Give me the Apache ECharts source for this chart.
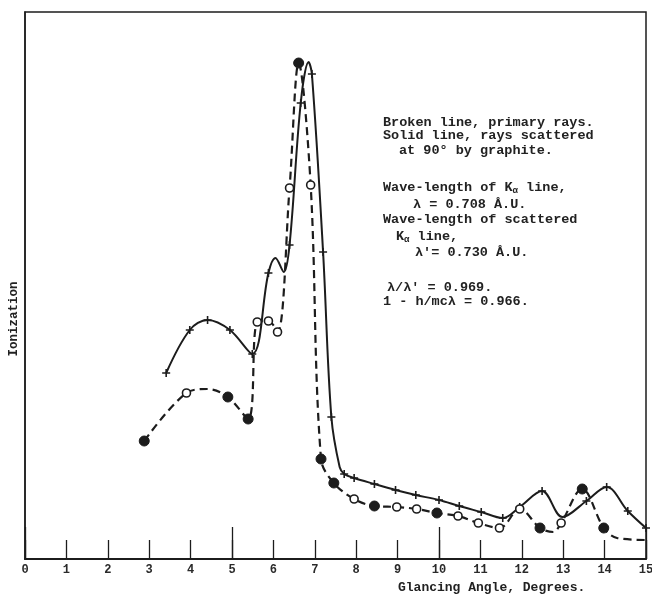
<!DOCTYPE html>
<html><head><meta charset="utf-8">
<script src="https://cdn.jsdelivr.net/npm/echarts/dist/echarts.min.js"></script>
<style>html,body{margin:0;background:#fff}#c{width:652px;height:595px}</style>
</head><body><div id="c"></div><script>
// Tick labels of the glancing-angle axis
const angleTicks = ['0','1','2','3','4','5','6','7','8','9','10','11','12','13','14','15'];

// Solid line: rays scattered at 90° by graphite (ionization in arbitrary units)
const scatteredAngle      = [3.41, 3.98, 4.41, 4.95, 5.49, 5.88, 6.05, 6.25, 6.39, 6.66, 6.85, 6.93, 7.20, 7.40, 7.60, 7.71, 7.95, 8.44, 8.95, 9.44, 10.00, 10.49, 11.02, 11.54, 11.95, 12.49, 12.98, 13.56, 14.05, 14.56, 15.00];
const scatteredIonization = [186,  229,  239,  229,  205,  286,  301,  287,  314,  456,  497,  485,  307,  142,  92,   85,   81,   75,   69,   64,   59,    53,    47,    41,    52,    68,    42,    58,    72,    48,    31];
const scatteredMarked     = [1,    1,    1,    1,    1,    1,    0,    0,    1,    1,    0,    1,    1,    1,    0,    1,    1,    1,    1,    1,    1,     1,     1,     1,     1,     1,     0,     1,     1,     1,     1];

// Broken line: primary rays
const primaryAngle      = [2.88, 3.90, 4.40, 4.90, 5.39, 5.61, 5.88, 6.10, 6.39, 6.61, 6.90, 7.15, 7.46, 7.95, 8.44, 8.98, 9.46, 9.95, 10.46, 10.95, 11.46, 11.95, 12.44, 12.76, 12.95, 13.46, 13.98, 14.30, 15.00];
const primaryIonization = [118,  166,  170,  162,  140,  237,  238,  227,  371,  496,  374,  100,  76,   60,   53,   52,   50,   46,   43,    36,    31,    50,    31,    27,    36,    70,    31,    21,    19];
const primaryMarker     = ['filled','open','none','filled','filled','open','open','open','open','filled','open','filled','filled','open','filled','open','open','filled','open','open','open','open','filled','none','open','filled','filled','none','none'];

const notes = [
  'Broken line, primary rays.',
  'Solid line, rays scattered',
  'at 90\u00b0 by graphite.',
  'Wave-length of {t|K}{s|\u03b1} line,',
  '\u03bb = 0.708 \u00c5.U.',
  'Wave-length of scattered',
  '{t|K}{s|\u03b1} line,',
  "\u03bb'= 0.730 \u00c5.U.",
  "\u03bb/\u03bb' = 0.969.",
  '1 - h/mc\u03bb = 0.966.'
];
const xTitle = 'Glancing Angle, Degrees.';
const yTitle = 'Ionization';

const ink = '#1c1c1c';
const mono = '"Liberation Mono", "DejaVu Sans Mono", monospace';
const crossPath = 'path://M4,0h2v10h-2z M0,4h10v2h-10z';

const scatteredData = scatteredAngle.map((a, i) => ({
  value: [a, scatteredIonization[i]],
  symbol: scatteredMarked[i] ? crossPath : 'none',
  symbolSize: 8
}));
const primaryData = primaryAngle.map((a, i) => {
  const m = primaryMarker[i];
  return {
    value: [a, primaryIonization[i]],
    symbol: m === 'none' ? 'none' : 'circle',
    symbolSize: m === 'filled' ? 10 : 8,
    itemStyle: m === 'filled'
      ? { color: ink, borderColor: ink, borderWidth: 1 }
      : { color: '#fff', borderColor: ink, borderWidth: 1.6 }
  };
});

const noteX = [383, 383, 399, 383, 413, 383, 396, 415, 387, 383];
const noteY = [124, 137, 152, 189, 206, 221, 238, 254, 289, 303];

const chart = echarts.init(document.getElementById('c'), null, { renderer: 'canvas' });
chart.setOption({
  animation: false,
  backgroundColor: '#fff',
  grid: { left: 25, right: 6, top: 12, bottom: 36, containLabel: false, outerBoundsMode: 'none',
          show: true, borderColor: ink, borderWidth: 1.5, backgroundColor: 'transparent' },
  xAxis: [{
    type: 'value', min: 0, max: 15, interval: 1,
    axisLine: { lineStyle: { color: ink, width: 2 } },
    axisTick: { inside: true, length: 19, lineStyle: { color: ink, width: 1.3 } },
    axisLabel: { color: '#2a2a2a', fontFamily: mono, fontSize: 12, fontWeight: 'bold', margin: 5, formatter: v => angleTicks[v] },
    splitLine: { show: false }
  }, {
    type: 'value', min: 0, max: 15, interval: 5, position: 'bottom',
    axisLine: { show: false },
    axisTick: { inside: true, length: 32, lineStyle: { color: ink, width: 1.3 } },
    axisLabel: { show: false },
    splitLine: { show: false }
  }],
  yAxis: {
    type: 'value', min: 0, max: 547,
    axisLine: { show: true, lineStyle: { color: ink, width: 1.5 } },
    axisTick: { show: false }, axisLabel: { show: false }, splitLine: { show: false }
  },
  series: [{
    type: 'line', name: 'scattered', data: scatteredData, smooth: 0.35,
    lineStyle: { color: ink, width: 2 },
    itemStyle: { color: ink }, z: 3
  }, {
    type: 'line', name: 'primary', data: primaryData, smooth: 0.35,
    lineStyle: { color: ink, width: 2.2, type: [8, 5] },
    itemStyle: { color: ink }, z: 4
  }],
  graphic: notes.map((t, i) => ({
    type: 'text', left: noteX[i], top: noteY[i] - 8,
    style: {
      text: t, fill: '#222', font: 'bold 13.5px ' + mono,
      rich: {
        t: { fontFamily: mono, fontSize: 13.5, fontWeight: 'bold', fill: '#222' },
        s: { fontFamily: mono, fontSize: 9, fontWeight: 'bold', fill: '#222', padding: [6, 0, 0, 0] }
      }
    }
  })).concat([{
    type: 'text', left: 398, top: 581,
    style: { text: xTitle, fill: '#222', font: 'bold 13px ' + mono }
  }, {
    type: 'text', x: 14, y: 319, rotation: Math.PI / 2,
    style: { text: yTitle, fill: '#222', font: 'bold 12.5px ' + mono, textAlign: 'center', textVerticalAlign: 'middle' }
  }])
});
</script></body></html>
